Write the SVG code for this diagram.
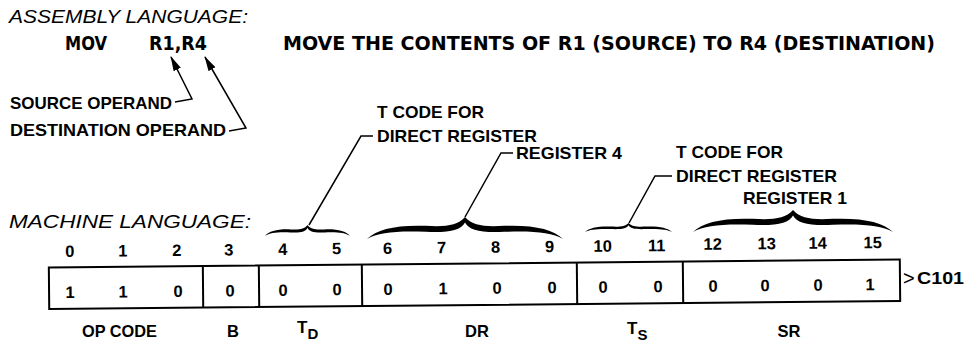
<svg xmlns="http://www.w3.org/2000/svg" width="972" height="345" viewBox="0 0 972 345">
<style>
text{font-family:"Liberation Sans",Arial,sans-serif;fill:#000}
.it{font-style:italic;font-size:18.5px}
.nar{font-family:"Liberation Sans Narrow","DejaVu Sans Condensed","Liberation Sans",sans-serif;font-size:19px;font-weight:bold}
.b{font-weight:bold;font-size:17px}
.d{font-weight:bold;font-size:16.5px;text-anchor:middle}
.ln{fill:none;stroke:#000;stroke-width:1.5}
.div{stroke:#000;stroke-width:2}
.box{fill:#fff;stroke:#000;stroke-width:2}
</style>
<defs>
<marker id="ah" markerUnits="userSpaceOnUse" markerWidth="15" markerHeight="8" refX="14" refY="4" orient="auto">
<path d="M0,0 L15,4 L0,8 z" fill="#000"/>
</marker>
<path id="brace" d="M0,20 C5,11 15,7 30,8 C40,9 46,8 50,0 C54,8 60,9 70,8 C85,7 95,11 100,20 C94,14 85,12.5 70,13.5 C58,14.5 52,12 50,5 C48,12 42,14.5 30,13.5 C15,12.5 6,14 0,20 Z" fill="#000"/>
</defs>

<g id="assembly">
<text class="it" x="9" y="23" textLength="239" lengthAdjust="spacingAndGlyphs">ASSEMBLY LANGUAGE:</text>
<text class="nar" x="65" y="50" textLength="42" lengthAdjust="spacingAndGlyphs">MOV</text>
<text class="nar" x="149" y="50" textLength="58" lengthAdjust="spacingAndGlyphs">R1,R4</text>
<text class="nar" x="283" y="50" textLength="652" lengthAdjust="spacingAndGlyphs">MOVE THE CONTENTS OF R1 (SOURCE) TO R4 (DESTINATION)</text>
</g>

<g id="source-operand">
<text class="b" x="10" y="109" textLength="162" lengthAdjust="spacingAndGlyphs">SOURCE OPERAND</text>
</g>
<g id="destination-operand">
<text class="b" x="10" y="136" textLength="216" lengthAdjust="spacingAndGlyphs">DESTINATION OPERAND</text>
</g>

<g id="tcode-d">
<text class="b" x="377" y="118" textLength="107" lengthAdjust="spacingAndGlyphs">T CODE FOR</text>
<text class="b" x="377" y="142" textLength="160" lengthAdjust="spacingAndGlyphs">DIRECT REGISTER</text>
</g>
<g id="register4">
<text class="b" x="516" y="159" textLength="106" lengthAdjust="spacingAndGlyphs">REGISTER 4</text>
</g>
<g id="tcode-s">
<text class="b" x="676" y="158" textLength="107" lengthAdjust="spacingAndGlyphs">T CODE FOR</text>
<text class="b" x="676" y="182" textLength="161" lengthAdjust="spacingAndGlyphs">DIRECT REGISTER</text>
</g>
<g id="register1">
<text class="b" x="743" y="204" textLength="104" lengthAdjust="spacingAndGlyphs">REGISTER 1</text>
</g>

<g id="machine">
<text class="it" x="9" y="228" textLength="242" lengthAdjust="spacingAndGlyphs">MACHINE LANGUAGE:</text>
</g>

<g id="braces">
<use href="#brace" transform="translate(265,225) scale(0.85,0.55)"/>
<use href="#brace" transform="translate(367,217) scale(1.96,1.1)"/>
<use href="#brace" transform="translate(585,223) scale(0.87,0.45)"/>
<use href="#brace" transform="translate(693,210) scale(2.0,1.1)"/>
</g>

<g id="word" transform="rotate(-0.55 475 283)">
<g id="bit-numbers">
<text class="d" x="70" y="253">0</text>
<text class="d" x="123" y="253">1</text>
<text class="d" x="177" y="253">2</text>
<text class="d" x="229" y="253">3</text>
<text class="d" x="283" y="253">4</text>
<text class="d" x="337" y="253">5</text>
<text class="d" x="388" y="253">6</text>
<text class="d" x="442" y="253">7</text>
<text class="d" x="496" y="253">8</text>
<text class="d" x="550" y="253">9</text>
<text class="d" x="603" y="253">10</text>
<text class="d" x="657" y="253">11</text>
<text class="d" x="713" y="252">12</text>
<text class="d" x="767" y="252">13</text>
<text class="d" x="818" y="252">14</text>
<text class="d" x="873" y="252">15</text>
</g>
<rect class="box" x="49" y="263.5" width="851" height="41.5"/>
<line class="div" x1="203" y1="263.5" x2="203" y2="305"/>
<line class="div" x1="259" y1="263.5" x2="259" y2="305"/>
<line class="div" x1="362" y1="263.5" x2="362" y2="305"/>
<line class="div" x1="577" y1="263.5" x2="577" y2="305"/>
<line class="div" x1="683" y1="263.5" x2="683" y2="305"/>
<text class="d" x="70" y="294">1</text>
<text class="d" x="123" y="294">1</text>
<text class="d" x="178" y="294">0</text>
<text class="d" x="230" y="294">0</text>
<text class="d" x="283" y="294">0</text>
<text class="d" x="337" y="294">0</text>
<text class="d" x="388" y="294">0</text>
<text class="d" x="443" y="294">1</text>
<text class="d" x="497" y="294">0</text>
<text class="d" x="552" y="294">0</text>
<text class="d" x="603" y="294">0</text>
<text class="d" x="658" y="294">0</text>
<text class="d" x="713" y="294">0</text>
<text class="d" x="765" y="294">0</text>
<text class="d" x="818" y="294">0</text>
<text class="d" x="870" y="294">1</text>
</g>
<g id="hex">
<text x="903" y="285" font-size="20">&gt;</text>
<text class="b" x="917" y="284" textLength="47" lengthAdjust="spacingAndGlyphs">C101</text>
</g>

<g id="fields">
<text class="b" x="82" y="337" textLength="75" lengthAdjust="spacingAndGlyphs">OP CODE</text>
<text class="d" x="233" y="337">B</text>
<text class="b" x="297" y="333">T<tspan font-size="15" dy="6">D</tspan></text>
<text class="d" x="477" y="337">DR</text>
<text class="b" x="627" y="334">T<tspan font-size="15" dy="6">S</tspan></text>
<text class="d" x="789" y="337">SR</text>
</g>

<g id="connectors">
<path class="ln" d="M175,102 L192,99 L171,57" marker-end="url(#ah)"/>
<path class="ln" d="M229,131 L246,128 L205,57" marker-end="url(#ah)"/>
<path class="ln" d="M309,225 L361,136 L373,136"/>
<path class="ln" d="M465,217 L501,153 L513,153"/>
<path class="ln" d="M629,223 L655,176 L672,176"/>
</g>
</svg>
